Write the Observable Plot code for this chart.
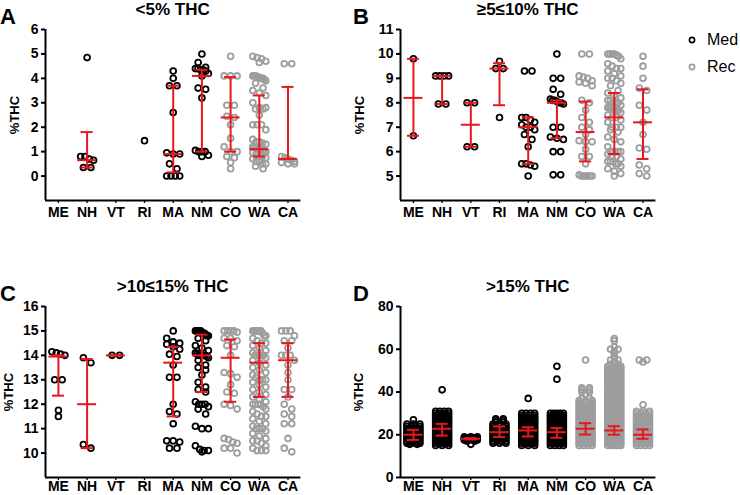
<!DOCTYPE html>
<html><head><meta charset="utf-8">
<script src="https://cdn.jsdelivr.net/npm/d3@7"></script>
<script src="https://cdn.jsdelivr.net/npm/@observablehq/plot@0.6"></script>
<style>
body{margin:0;background:#fff;}
#page{position:relative;width:740px;height:495px;overflow:hidden;font-family:"Liberation Sans",Arial,sans-serif;color:#000;}
.panel{position:absolute;}
.letter{position:absolute;font-weight:bold;font-size:22px;line-height:22px;}
.title{position:absolute;font-weight:bold;font-size:17px;line-height:17px;text-align:center;width:260px;white-space:nowrap;}
.ylab{position:absolute;width:60px;height:16px;line-height:16px;text-align:center;font-weight:bold;font-size:13px;transform:rotate(-90deg);white-space:nowrap;}
.leg{position:absolute;font-size:16px;line-height:16px;white-space:nowrap;}
.panel svg [aria-label^="y-axis"] path,.panel svg [aria-label^="y-axis"] line{stroke-width:2;}
.panel svg [aria-label^="x-axis"] path,.panel svg [aria-label^="x-axis"] line{stroke-width:1.3;}
</style>
</head><body>
<div id="page"></div>
<script>
// categories
const cats = ["ME","NH","VT","RI","MA","NM","CO","WA","CA"];
const medicalStates = ["ME","NH","VT","RI","MA","NM"];

// ---------- Panel A: <5% THC (individual samples) ----------
const A_ME = [];
const A_NH = [4.85, 0.8, 0.8, 0.7, 0.65, 0.35, 0.35];
const A_VT = [];
const A_RI = [1.45];
const A_MA = [4.3, 4.0, 3.7, 3.7, 2.6, 0.95, 0.9, 0.9, 0.5, 0.3, 0, 0, 0, 0];
const A_NM = [5.0, 4.65, 4.45, 4.4, 4.4, 4.35, 4.35, 4.3, 4.2, 4.1, 3.6, 3.55, 3.2, 1.05, 1.0, 1.0, 1.0, 0.85, 0.8];
const A_CO = [4.9, 4.1, 4.1, 4.1, 2.9, 2.9, 2.45, 2.4, 2.1, 1.55, 1.2, 1.0, 1.0, 0.8, 0.75, 0.55, 0.3];
const A_WA = [4.9, 4.85, 4.8, 4.7, 4.65, 4.1, 4.1, 4.1, 4.05, 4.05, 4.0, 4.0, 4.0, 3.95, 3.9, 3.8, 3.6, 3.5, 3.4, 3.3, 3.0, 2.8, 2.8, 2.75, 2.75, 2.5, 2.1, 2.1, 2.1, 1.9, 1.5, 1.4, 1.4, 1.35, 1.3, 1.2, 1.2, 1.15, 1.1, 1.1, 1.1, 1.05, 1.0, 1.0, 0.95, 0.9, 0.8, 0.8, 0.75, 0.7, 0.6, 0.6, 0.5, 0.5, 0.4, 0.3];
const A_CA = [4.6, 4.6, 0.8, 0.75, 0.7, 0.65, 0.6, 0.55, 0.5, 0.5];
const A_med = [null, 0.65, null, null, 0.9, 4.1, 2.4, 1.1, 0.7];
const A_q1  = [null, 0.35, null, null, 0.15, 1.0, 1.0, 0.8, 0.7];
const A_q3  = [null, 1.8, null, null, 3.7, 4.35, 4.05, 3.3, 3.65];
const A_ticks = [0, 1, 2, 3, 4, 5, 6];

// ---------- Panel B: ≥5≤10% THC ----------
const B_ME = [9.8, 6.65];
const B_NH = [9.1, 9.1, 9.1, 9.1, 7.95, 7.95];
const B_VT = [8.0, 8.0, 6.2, 6.2];
const B_RI = [9.7, 9.4, 9.4, 7.4];
const B_MA = [9.3, 9.3, 7.4, 7.4, 7.3, 7.2, 7.1, 7.0, 7.0, 6.9, 6.7, 6.5, 6.2, 5.5, 5.5, 5.45, 5.4, 5.0];
const B_NM = [10.0, 9.0, 9.0, 8.55, 8.35, 8.15, 8.1, 8.1, 8.05, 8.0, 8.0, 7.95, 7.0, 7.0, 6.6, 6.55, 6.5, 6.0, 6.0, 5.05, 5.05];
const B_CO = [10.0, 10.0, 9.1, 9.05, 9.0, 8.9, 8.85, 8.8, 8.7, 8.1, 8.0, 7.7, 7.4, 7.2, 7.0, 6.9, 6.7, 6.45, 6.4, 6.4, 6.1, 5.8, 5.8, 5.5, 5.05, 5.0, 5.0, 5.0, 5.0, 5.0, 5.0];
const B_WA = [10.0, 10.0, 10.0, 10.0, 9.95, 9.9, 9.8, 9.6, 9.5, 9.4, 9.4, 9.3, 9.2, 9.1, 9.0, 9.0, 8.9, 8.8, 8.7, 8.5, 8.4, 8.3, 8.2, 8.1, 8.1, 8.0, 8.0, 8.0, 7.9, 7.8, 7.8, 7.8, 7.7, 7.7, 7.7, 7.7, 7.6, 7.5, 7.4, 7.4, 7.3, 7.2, 7.0, 7.0, 7.0, 6.9, 6.8, 6.6, 6.5, 6.4, 6.2, 6.0, 6.0, 6.0, 6.0, 6.0, 5.9, 5.8, 5.8, 5.7, 5.6, 5.6, 5.6, 5.5, 5.5, 5.4, 5.3, 5.2, 5.1, 5.0];
const B_CA = [9.9, 9.5, 9.0, 8.6, 8.5, 7.9, 7.7, 7.2, 6.7, 6.15, 6.1, 5.45, 5.3, 5.1, 5.0];
const B_med = [8.2, 9.1, 7.1, 9.4, 7.0, 8.0, 6.8, 7.4, 7.2];
const B_q1  = [6.65, 7.95, 6.2, 7.9, 5.5, 6.55, 5.6, 5.9, 5.7];
const B_q3  = [9.8, 9.1, 8.0, 9.62, 7.4, 8.1, 8.05, 8.4, 8.55];
const B_ticks = [5, 6, 7, 8, 9, 10, 11];

// ---------- Panel C: >10≤15% THC ----------
const C_ME = [14.15, 14.1, 14.05, 14.0, 13.0, 13.0, 11.75, 11.5];
const C_NH = [13.9, 13.7, 10.35, 10.2];
const C_VT = [14.0, 14.0];
const C_RI = [];
const C_MA = [15.0, 14.7, 14.55, 14.5, 14.45, 14.35, 14.25, 14.05, 13.95, 13.6, 13.1, 13.1, 12.0, 11.7, 11.6, 11.2, 10.5, 10.5, 10.45, 10.2, 10.2];
const C_NM = [15.0, 15.0, 15.0, 15.0, 15.0, 14.95, 14.9, 14.9, 14.85, 14.8, 14.8, 14.7, 14.6, 14.4, 14.3, 14.2, 14.1, 14.05, 14.0, 14.0, 14.0, 14.0, 14.0, 13.95, 13.9, 13.8, 13.6, 13.5, 13.4, 13.2, 12.9, 12.7, 12.6, 12.5, 12.1, 12.0, 12.0, 12.0, 11.9, 11.8, 11.6, 11.1, 11.0, 11.0, 10.3, 10.15, 10.1, 10.1, 10.05];
const C_CO = [15.0, 15.0, 15.0, 15.0, 14.95, 14.7, 14.7, 14.6, 14.4, 14.35, 14.0, 13.3, 13.25, 13.1, 12.8, 12.5, 12.45, 12.0, 11.95, 11.8, 10.6, 10.55, 10.45, 10.4, 10.2, 10.2, 10.0];
const C_WA = [15.0, 15.0, 15.0, 15.0, 15.0, 15.0, 14.9, 14.8, 14.8, 14.7, 14.6, 14.5, 14.5, 14.4, 14.3, 14.2, 14.1, 14.0, 14.0, 14.0, 14.0, 14.0, 13.9, 13.8, 13.7, 13.6, 13.5, 13.4, 13.3, 13.2, 13.1, 13.0, 13.0, 13.0, 12.9, 12.8, 12.7, 12.6, 12.5, 12.4, 12.3, 12.2, 12.1, 12.0, 12.0, 12.0, 12.0, 11.9, 11.8, 11.7, 11.6, 11.5, 11.5, 11.4, 11.3, 11.2, 11.1, 11.0, 11.0, 11.0, 10.9, 10.8, 10.7, 10.6, 10.5, 10.5, 10.4, 10.3, 10.2, 10.1, 10.1, 10.1];
const C_CA = [15.0, 15.0, 15.0, 14.8, 14.6, 14.6, 14.3, 14.0, 14.0, 14.0, 13.8, 13.6, 13.3, 13.0, 12.6, 12.6, 12.3, 12.0, 11.8, 11.6, 11.5, 11.2, 11.2, 10.6, 10.2, 10.05];
const C_med = [13.95, 12.0, 14.0, null, 13.7, 14.0, 13.9, 13.7, 13.8];
const C_q1  = [12.35, 10.2, 14.0, null, 11.5, 12.5, 12.1, 12.3, 12.3];
const C_q3  = [14.0, 13.85, 14.0, null, 14.35, 14.85, 14.65, 14.5, 14.5];
const C_ticks = [10, 11, 12, 13, 14, 15, 16];

// ---------- Panel D: >15% THC (too many samples: value levels with estimated counts) ----------
const D_ME_v = [27, 25, 24, 23, 22, 21, 20, 19, 18, 17, 16, 15.5];
const D_ME_n = [1, 3, 4, 5, 6, 6, 6, 6, 6, 5, 4, 2];
const D_NH_v = [41, 31, 30, 29, 28, 27, 26, 25, 24, 23, 22, 21, 20, 19, 18, 17, 16, 15];
const D_NH_n = [1, 4, 5, 5, 5, 6, 6, 7, 7, 8, 8, 8, 8, 8, 7, 6, 5, 3];
const D_VT_v = [19, 18.5, 18, 17.5, 17, 15.5];
const D_VT_n = [3, 6, 6, 4, 2, 1];
const D_RI_v = [27.5, 27, 26, 25, 24, 23, 22, 21, 20, 19, 18, 17, 16];
const D_RI_n = [2, 2, 2, 3, 3, 4, 4, 5, 5, 5, 4, 4, 3];
const D_MA_v = [37, 30, 29, 28, 27, 26, 25, 24, 23, 22, 21, 20, 19, 18, 17, 16, 15];
const D_MA_n = [1, 4, 4, 4, 5, 6, 7, 8, 8, 8, 8, 8, 8, 7, 6, 5, 3];
const D_NM_v = [52, 46, 30, 29, 28, 27, 26, 25, 24, 23, 22, 21, 20, 19, 18, 17, 16, 15];
const D_NM_n = [1, 1, 5, 5, 5, 6, 7, 8, 8, 9, 9, 9, 9, 9, 8, 7, 6, 4];
const D_CO_v = [55, 42, 41, 40, 39, 37, 36, 35, 34, 33, 32, 31, 30, 29, 28, 27, 26, 25, 24, 23, 22, 21, 20, 19, 18, 17, 16, 15];
const D_CO_n = [1, 2, 2, 2, 1, 2, 3, 3, 4, 4, 5, 5, 6, 6, 7, 8, 8, 9, 9, 9, 9, 9, 9, 8, 8, 7, 6, 4];
const D_WA_v = [65, 64, 61, 60, 59, 58, 57, 56, 55, 54, 53, 52, 51, 50, 49, 48, 47, 46, 45, 44, 43, 42, 41, 40, 39, 38, 37, 36, 35, 34, 33, 32, 31, 30, 29, 28, 27, 26, 25, 24, 23, 22, 21, 20, 19, 18, 17, 16, 15];
const D_WA_n = [1, 1, 1, 2, 1, 1, 1, 1, 2, 1, 2, 3, 4, 4, 4, 5, 5, 5, 5, 5, 5, 6, 6, 6, 6, 6, 6, 7, 7, 7, 7, 7, 7, 8, 8, 8, 8, 9, 9, 9, 9, 9, 9, 9, 9, 9, 8, 7, 5];
const D_CA_v = [55, 54, 34, 31, 30, 29, 28, 27, 26, 25, 24, 23, 22, 21, 20, 19, 18, 17, 16, 15];
const D_CA_n = [2, 1, 1, 3, 4, 5, 5, 6, 6, 7, 7, 8, 8, 8, 8, 8, 8, 7, 6, 4];
const D_med = [20, 22.8, 18.1, 21.2, 22, 21.2, 22.8, 22, 20];
const D_q1  = [17.6, 19.6, 17.8, 18.9, 19.2, 18.6, 20.1, 20, 18.1];
const D_q3  = [22.3, 25.1, 18.4, 23.9, 23.5, 23.2, 25.4, 24, 22.5];
const D_ticks = [0, 20, 40, 60, 80];

// expand a frequency table (value levels × counts) into individual samples
const expand = (v, n) => v.flatMap((x, i) => Array(n[i]).fill(x));

const panels = [
  {letter:"A", title:"<5% THC", vals:[A_ME,A_NH,A_VT,A_RI,A_MA,A_NM,A_CO,A_WA,A_CA], med:A_med, q1:A_q1, q3:A_q3, ticks:A_ticks, domain:[-1,6], left:0, top:0, letterX:0, ylabX:15, rowPx:6},
  {letter:"B", title:"≥5≤10% THC", vals:[B_ME,B_NH,B_VT,B_RI,B_MA,B_NM,B_CO,B_WA,B_CA], med:B_med, q1:B_q1, q3:B_q3, ticks:B_ticks, domain:[4,11], left:355, top:0, letterX:353, ylabX:360, rowPx:6},
  {letter:"C", title:">10≤15% THC", vals:[C_ME,C_NH,C_VT,C_RI,C_MA,C_NM,C_CO,C_WA,C_CA], med:C_med, q1:C_q1, q3:C_q3, ticks:C_ticks, domain:[9,16], left:0, top:277, letterX:0, ylabX:9, rowPx:6},
  {letter:"D", title:">15% THC", vals:[expand(D_ME_v,D_ME_n),expand(D_NH_v,D_NH_n),expand(D_VT_v,D_VT_n),expand(D_RI_v,D_RI_n),expand(D_MA_v,D_MA_n),expand(D_NM_v,D_NM_n),expand(D_CO_v,D_CO_n),expand(D_WA_v,D_WA_n),expand(D_CA_v,D_CA_n)], med:D_med, q1:D_q1, q3:D_q3, ticks:D_ticks, domain:[0,80], left:355, top:277, letterX:353, ylabX:359, rowPx:0.5}
];

const RED = "#e8161d", GREY = "#9d9d9d";
const mL = 45, mT = 29, plotH = 171, xDom = [-0.45, 8.45], PX = 28.7;
const plotW = (xDom[1]-xDom[0])*PX;
const page = document.getElementById("page");

// Prism-like scatter: samples closer than a row height sit side by side, centred, within a fixed width
function swarm(vals, ppu, idx, rowPx) {
  const s = vals.slice().sort((a,b)=>b-a);
  const out = [];
  let k = 0;
  while (k < s.length) {
    let j = k;
    while (j < s.length && (s[k]-s[j])*ppu <= rowPx) j++;
    const n = j - k;
    const sp = n > 1 ? Math.min(7.5, 13/(n-1)) : 0;
    for (let t = 0; t < n; t++) out.push({x: idx + ((t-(n-1)/2)*sp)/PX, v: s[k+t], cat: cats[idx]});
    k = j;
  }
  return out;
}

for (const p of panels) {
  const ppu = plotH/(p.domain[1]-p.domain[0]);
  let pts = [];
  p.vals.forEach((v,i)=>{ pts = pts.concat(swarm(v, ppu, i, p.rowPx)); });
  const med = pts.filter(d=>medicalStates.includes(d.cat));
  const rec = pts.filter(d=>!medicalStates.includes(d.cat));
  const stats = cats.map((c,i)=>({i, med:p.med[i], q1:p.q1[i], q3:p.q3[i]})).filter(d=>d.med!=null);
  const bottom = p.top !== 0;
  const mB = bottom ? 18 : 30;
  const H = mT + plotH + mB;
  const W = mL + plotW + 10;
  const chart = Plot.plot({
    width: W, height: H,
    marginLeft: mL, marginRight: 10, marginTop: mT, marginBottom: mB,
    style: {fontFamily:'"Liberation Sans", Arial, sans-serif', fontSize:"14px", fontWeight:"bold", color:"#000", background:"transparent", overflow:"visible"},
    x: {domain: xDom, ticks: d3.range(9), tickFormat: i => cats[i], tickSize: 3, tickPadding: bottom ? 1 : 4, label: null},
    y: {domain: p.domain, ticks: p.ticks, tickFormat: d => String(d), tickSize: 4, tickPadding: 3, label: null},
    marks: [
      Plot.dot(med, {x:"x", y:"v", r:2.9, stroke:"#000", strokeWidth:1.8, fill:"none"}),
      Plot.dot(rec, {x:"x", y:"v", r:2.9, stroke:GREY, strokeWidth:1.8, fill:"none"}),
      Plot.ruleX(stats.filter(d=>d.q3>d.q1), {x:"i", y1:"q1", y2:"q3", stroke:RED, strokeWidth:2}),
      Plot.ruleY(stats, {y:"q1", x1:d=>d.i-0.21, x2:d=>d.i+0.21, stroke:RED, strokeWidth:2}),
      Plot.ruleY(stats, {y:"q3", x1:d=>d.i-0.21, x2:d=>d.i+0.21, stroke:RED, strokeWidth:2}),
      Plot.ruleY(stats, {y:"med", x1:d=>d.i-0.33, x2:d=>d.i+0.33, stroke:RED, strokeWidth:2}),
      Plot.ruleX([xDom[0]], {stroke:"#000", strokeWidth:2}),
      Plot.ruleY([p.domain[0]], {stroke:"#000", strokeWidth:2})
    ]
  });
  const wrap = document.createElement("div");
  wrap.className = "panel";
  wrap.style.left = p.left + "px";
  wrap.style.top = p.top + "px";
  wrap.appendChild(chart);
  page.appendChild(wrap);

  const L = document.createElement("div");
  L.className = "letter"; L.textContent = p.letter;
  L.style.left = p.letterX + "px"; L.style.top = (p.top + 6) + "px";
  page.appendChild(L);

  const T = document.createElement("div");
  T.className = "title"; T.textContent = p.title;
  T.style.left = (p.left + mL + plotW/2 - 130) + "px"; T.style.top = (p.top + 1) + "px";
  page.appendChild(T);

  const Y = document.createElement("div");
  Y.className = "ylab"; Y.textContent = "%THC";
  Y.style.left = (p.ylabX - 30) + "px"; Y.style.top = (p.top + mT + plotH/2 - 8) + "px";
  page.appendChild(Y);
}

// legend
const legend = [["Med", "#000", 40], ["Rec", GREY, 67]];
for (const [name, col, cy] of legend) {
  const s = document.createElementNS("http://www.w3.org/2000/svg", "svg");
  s.setAttribute("width", 12); s.setAttribute("height", 12);
  s.style.position = "absolute"; s.style.left = "686px"; s.style.top = (cy - 6) + "px";
  const c = document.createElementNS("http://www.w3.org/2000/svg", "circle");
  c.setAttribute("cx", 6); c.setAttribute("cy", 6); c.setAttribute("r", 2.6);
  c.setAttribute("fill", "none"); c.setAttribute("stroke", col); c.setAttribute("stroke-width", 1.6);
  s.appendChild(c); page.appendChild(s);
  const t = document.createElement("div");
  t.className = "leg"; t.textContent = name;
  t.style.left = "707px"; t.style.top = (cy - 8) + "px";
  page.appendChild(t);
}
</script>
</body></html>
